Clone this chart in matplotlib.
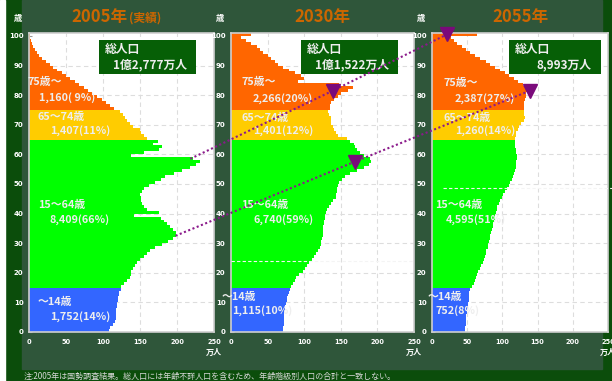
import numpy as np
import matplotlib.pyplot as plt
from matplotlib.patches import Rectangle
from matplotlib.lines import Line2D
import matplotlib.transforms as mtransforms

plt.rcParams['font.family'] = ['Noto Sans CJK JP', 'DejaVu Sans']

# population by single age (万人), last value = 100歳以上
ages = np.arange(101)
pop_2005 = [108, 110, 113, 116, 117, 117, 118, 118, 119, 119, 120, 120, 121, 122, 124,
            124, 128, 132, 136, 138, 138, 141, 143, 146, 150,
            156, 160, 164, 170, 180, 188, 195, 198, 199, 194,
            190, 186, 182, 178, 142, 176, 160, 155, 153, 152,
            151, 150, 153, 156, 162, 170, 178, 184, 196, 207,
            218, 226, 231, 222, 138, 155, 175, 180, 168, 174,
            160, 155, 152, 150, 140, 137, 133, 130, 127, 123,
            115, 110, 104, 98, 92, 85, 80, 74, 68, 62, 56, 50, 44, 38, 33, 28,
            23, 18, 14, 11, 8, 6, 4, 3, 2, 2]
pop_2030 = [71, 71, 72, 72, 72, 73, 73, 74, 74, 75, 76, 77, 78, 79, 80,
            82, 85, 87, 89, 93, 98, 101, 104, 107, 110,
            113, 116, 119, 121, 123, 123, 124, 125, 125, 125,
            126, 127, 127, 128, 129, 130, 131, 134, 137, 140,
            143, 144, 145, 145, 146, 148, 152, 156, 162, 172,
            182, 188, 191, 190, 182, 176, 172, 170, 168, 163,
            158, 146, 143, 141, 139, 137, 136, 136, 134, 132,
            135, 135, 137, 141, 146, 150, 160, 166, 148, 92, 100, 96, 88, 79, 71, 64,
            60, 54, 50, 44, 39, 35, 28, 21, 14, 27]
pop_2055 = [47, 47, 48, 48, 49, 49, 50, 50, 51, 51, 52, 52, 53, 53, 54,
            57, 59, 61, 63, 64, 66, 68, 70, 72, 74,
            75, 76, 77, 79, 80, 81, 82, 83, 84, 85,
            86, 87, 88, 89, 90, 91, 92, 93, 95, 97,
            99, 101, 103, 106, 109, 111, 113, 115, 117, 118,
            119, 120, 120, 121, 121, 120, 119, 118, 118, 118,
            118, 119, 120, 122, 124, 127, 131, 132, 131, 130,
            131, 131, 131, 132, 133, 134, 135, 135, 129, 122, 117, 110, 104, 96, 90, 83,
            76, 68, 61, 54, 48, 42, 36, 31, 27, 64]
populations = [pop_2005, pop_2030, pop_2055]

years = ['2005年', '2030年', '2055年']
totals = ['1億2,777万人', '1億1,522万人', '8,993万人']
band_edges = [0, 15, 65, 75, 101]
band_colors = ['#3366FF', '#00FF00', '#FFCC00', '#FF6600']
band_names = ['～14歳', '15～64歳', '65～74歳', '75歳～']
band_values = [
    ['1,752(14%)', '8,409(66%)', '1,407(11%)', '1,160( 9%)'],
    ['1,115(10%)', '6,740(59%)', '1,401(12%)', '2,266(20%)'],
    ['752(8%)', '4,595(51%)', '1,260(14%)', '2,387(27%)'],
]
xticks = [0, 50, 100, 150, 200, 250]
note = '注:2005年は国勢調査結果。総人口には年齢不詳人口を含むため、年齢階級別人口の合計と一致しない。'

# cohort arrows (age, 万人) in each panel
cohort1_age = [58, 81, 100]
cohort1_val = [218, 139, 21]
cohort2_age = [32, 57, 81]
cohort2_val = [198, 169, 139]

# layout (pixels)
W, H = 612, 381
pan_left = [29, 231, 432]
pan_width = [185, 183, 176]
pan_top, pan_bottom = 33, 332
pan_h = pan_bottom - pan_top
name_age = [[10.2, 43, 72.5, 84.4], [11.7, 43, 72.4, 84.4], [11.7, 43, 72.4, 84.0]]
value_age = [[5.3, 38, 68, 79.3], [7.3, 38, 68, 78.8], [7.3, 38, 68, 78.8]]
name_dx = [[9, 9, 9, -2], [-9, 10, 10, 10], [-4, 3, 11, 11]]
value_dx = [[21, 21, 21, 10], [1, 22, 22, 22], [4, 14, 23, 23]]
box_x = [(0.378, 0.903), (0.383, 0.913), (0.4375, 0.96)]
box_top, box_bottom = 40, 74
dash_age = [None, 24, 48.5]

fig = plt.figure(figsize=(W / 100, H / 100), dpi=100, facecolor='#0b4d0b')
fig.add_artist(Rectangle((22 / W, 1 - 369 / H), (602 - 22) / W, 369 / H,
                         transform=fig.transFigure, color='#2f563a', zorder=-10))
fig.add_artist(Rectangle((0, 0), 5 / W, 1, transform=fig.transFigure,
                         color='white', zorder=-9))

txt = dict(color='#eeeeee', fontweight='bold', fontsize=7.8)
axes = []
for i in range(3):
    ax = fig.add_axes([pan_left[i] / W, 1 - pan_bottom / H, pan_width[i] / W, pan_h / H])
    axes.append(ax)
    ax.set_facecolor('white')
    band = np.digitize(ages, band_edges[1:-1])
    cols = [band_colors[b] for b in band]
    ax.barh(ages, populations[i], height=1, align='edge', color=cols,
            linewidth=0, zorder=2)
    ax.set_xlim(0, 250)
    ax.set_ylim(0, 101)
    for x in xticks[1:-1]:
        ax.axvline(x, color='#dddddd', lw=0.8, ls=(0, (4, 3)), zorder=1)
    for y in range(10, 100, 10):
        ax.axhline(y, color='#dddddd', lw=0.8, ls=(0, (4, 3)), zorder=1)
    for s in ax.spines.values():
        s.set_color('#cfcfcf')
        s.set_linewidth(1.2)

    ax.set_xticks(xticks)
    ax.set_yticks(range(0, 101, 10))
    ax.tick_params(axis='x', length=0, pad=5, labelsize=4.8, labelcolor='white')
    ax.tick_params(axis='y', length=2, direction='in', color='#999999', pad=4,
                   labelsize=5, labelcolor='white')
    for lbl in ax.get_xticklabels() + ax.get_yticklabels():
        lbl.set_fontweight('bold')
        lbl.set_family('DejaVu Sans')
    ax.annotate('万人', xy=(250, 0), xycoords=('data', 'axes fraction'),
                xytext=(0, -20), textcoords='offset pixels', ha='center',
                va='center', fontsize=5.8, color='white', fontweight='bold',
                annotation_clip=False)
    ax.annotate('歳', xy=(0, 1), xycoords='axes fraction', xytext=(-11, 15),
                textcoords='offset pixels', ha='center', va='center',
                fontsize=6, color='white', fontweight='bold')

    # title
    if i == 0:
        ax.annotate(years[i], xy=(0.5, 1), xycoords='axes fraction', xytext=(6, 16),
                    textcoords='offset pixels', ha='right', va='center',
                    fontsize=12, color='#CC6600', fontweight='bold')
        ax.annotate('(実績)', xy=(0.5, 1), xycoords='axes fraction', xytext=(7, 15),
                    textcoords='offset pixels', ha='left', va='center',
                    fontsize=8.5, color='#CC6600', fontweight='bold')
    else:
        ax.annotate(years[i], xy=(0.5, 1), xycoords='axes fraction', xytext=(0, 16),
                    textcoords='offset pixels', ha='center', va='center',
                    fontsize=12, color='#CC6600', fontweight='bold')

    # total population box
    bx0, bx1 = box_x[i]
    by1 = 1 - (box_top - pan_top) / pan_h
    by0 = 1 - (box_bottom - pan_top) / pan_h
    ax.add_patch(Rectangle((bx0, by0), bx1 - bx0, by1 - by0, transform=ax.transAxes,
                           facecolor='#065f06', edgecolor='none', zorder=5))
    ax.text(bx0 + 6 / pan_width[i], by1 - 10 / pan_h, '総人口', transform=ax.transAxes,
            ha='left', va='center', zorder=6, **{**txt, 'fontsize': 8.5})
    ax.text(bx1 - 9 / pan_width[i], by1 - 25 / pan_h, totals[i], transform=ax.transAxes,
            ha='right', va='center', zorder=6, **{**txt, 'fontsize': 8.5})

    # band labels
    for k in range(4):
        ax.annotate(band_names[k], xy=(0, name_age[i][k]), xycoords=('axes fraction', 'data'),
                    xytext=(name_dx[i][k], 0), textcoords='offset pixels',
                    ha='left', va='center', zorder=6, annotation_clip=False, **txt)
        ax.annotate(band_values[i][k], xy=(0, value_age[i][k]), xycoords=('axes fraction', 'data'),
                    xytext=(value_dx[i][k], 0), textcoords='offset pixels',
                    ha='left', va='center', zorder=6, annotation_clip=False, **txt)

    if dash_age[i] is not None:
        tr = mtransforms.blended_transform_factory(ax.transAxes, ax.transData)
        x_end = 1.0 if i == 1 else 1.03
        x_start = 0.0 if i == 1 else 0.06
        ax.plot([x_start, x_end], [dash_age[i], dash_age[i]], transform=tr,
                color='#f4f4f4', lw=0.8, ls=(0, (3, 2)), zorder=3, clip_on=False)

# cohort arrows across panels
inv = fig.transFigure.inverted()
for c_age, c_val in [(cohort1_age, cohort1_val), (cohort2_age, cohort2_val)]:
    pts = np.array([inv.transform(axes[i].transData.transform((c_val[i], c_age[i] + 0.5)))
                    for i in range(3)])
    fig.add_artist(Line2D(pts[:, 0], pts[:, 1], transform=fig.transFigure,
                          color='#8B1A8B', lw=1.5, ls=(0, (1, 1.2)), zorder=10))
    fig.add_artist(Line2D(pts[1:, 0], pts[1:, 1], transform=fig.transFigure,
                          color='#7A0A7A', marker='v', ms=10, ls='none', zorder=11))

fig.text(24 / W, 1 - 376 / H, note, fontsize=5.8, color='#d8d8d8', va='center')

fig.savefig('out.png', dpi=100, facecolor=fig.get_facecolor())
